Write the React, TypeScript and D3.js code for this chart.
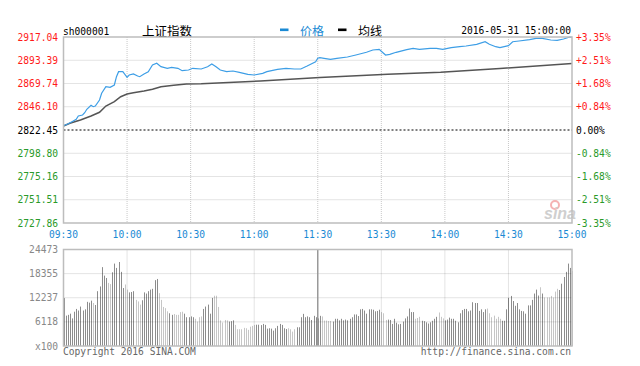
import React from 'react';
import * as d3 from 'd3';

// Header / axis text
const symbol = 'sh000001';
const title = '上证指数';
const legendPrice = '价格';
const legendAvg = '均线';
const dateLabel = '2016-05-31 15:00:00';
const prevClose = 2822.45;

const priceTicks = [2917.04, 2893.39, 2869.74, 2846.10, 2822.45, 2798.80, 2775.16, 2751.51, 2727.86];
const pctTicks = ['+3.35%', '+2.51%', '+1.68%', '+0.84%', '0.00%', '-0.84%', '-1.68%', '-2.51%', '-3.35%'];
const timeLabels = ['09:30', '10:00', '10:30', '11:00', '11:30', '13:30', '14:00', '14:30', '15:00'];
const timeMinutes = [0, 30, 60, 90, 120, 150, 180, 210, 240];
const volumeTicks = [24473, 18355, 12237, 6118];

// [minute index from 09:30, price]
const priceSeries: [number, number][] = [
  [0, 2826.82], [2, 2828.55], [4, 2830.89], [6, 2833.33], [7, 2836.69], [9, 2837.71], [10, 2840.05],
  [11, 2843.5], [13, 2847.57], [14, 2846.15], [15, 2846.86], [17, 2852.96], [18, 2859.78], [20, 2866.49],
  [22, 2865.88], [24, 2868.22], [25, 2876.66], [26, 2881.75], [28, 2881.75], [30, 2876.05], [31, 2878.39],
  [33, 2879.41], [35, 2877.37], [36, 2876.66], [38, 2879.41], [40, 2881.75], [42, 2888.56], [44, 2890.29],
  [46, 2886.83], [49, 2885.2], [51, 2886.22], [54, 2885.2], [56, 2882.76], [59, 2883.48], [61, 2885.2],
  [65, 2884.49], [68, 2886.83], [70, 2889.58], [72, 2886.83], [74, 2883.48], [77, 2881.75], [80, 2882.46],
  [83, 2881.14], [87, 2879.1], [90, 2878.39], [94, 2880.12], [96, 2881.75], [101, 2884.19], [105, 2885.2],
  [109, 2884.49], [112, 2884.49], [115, 2887.54], [119, 2891.92], [120, 2895.38], [121, 2895.99],
  [123, 2895.38], [126, 2894.36], [129, 2895.38], [134, 2896.7], [138, 2898.73], [143, 2901.48],
  [146, 2903.82], [149, 2904.53], [152, 2898.73], [154, 2899.44], [157, 2901.48], [162, 2904.12],
  [165, 2905.55], [168, 2904.53], [173, 2905.55], [176, 2905.55], [179, 2904.53], [183, 2906.16],
  [187, 2907.17], [190, 2907.89], [195, 2909.62], [199, 2912.26], [201, 2909.62], [204, 2907.17],
  [206, 2906.16], [208, 2907.17], [210, 2908.19], [212, 2912.26], [215, 2912.97], [220, 2914.29],
  [223, 2915.72], [226, 2915.72], [230, 2913.99], [233, 2913.65], [236, 2915.01], [239, 2917.04],
  [240, 2916.62],
];

const avgSeries: [number, number][] = [
  [0, 2826.52], [3, 2829.26], [8, 2832.62], [13, 2836.69], [17, 2840.45], [20, 2846.86], [24, 2851.23],
  [27, 2856.32], [30, 2859.07], [33, 2860.39], [38, 2862.12], [42, 2863.85], [46, 2866.49], [52, 2867.91],
  [58, 2869.24], [65, 2869.54], [93, 2872.29], [121, 2875.85], [153, 2879.1], [178, 2881.14],
  [206, 2885.0], [240, 2890.09],
];

// volume per minute (x100), 09:30-11:30 then 13:01-15:00
const volumeAm = [
  12150, 7700, 7900, 8200, 7000, 8700, 9400, 9000, 10000, 9000,
  9300, 11200, 11000, 11500, 10900, 10400, 13900, 15100, 20000, 17850,
  17250, 16000, 15700, 18700, 20900, 19800, 21300, 18800, 14700, 15600,
  14300, 13600, 13700, 13900, 11700, 11300, 10500, 11600, 13600, 13300,
  13900, 14300, 14500, 16700, 17000, 13400, 11700, 9900, 9600, 8800,
  8300, 7900, 8100, 7900, 7900, 8600, 8700, 8200, 7300, 7300,
  7500, 7300, 6900, 6200, 7300, 7500, 9400, 10000, 10500, 8200,
  12200, 12750, 12750, 9900, 6500, 5950, 6600, 6500, 6200, 6300,
  6500, 5350, 4250, 4250, 4250, 4600, 4500, 4100, 4900, 5100,
  5350, 5400, 5400, 5300, 5600, 5350, 4400, 4500, 4400, 3900,
  4500, 5100, 5600, 5350, 4500, 4300, 4500, 4250, 3650, 4250,
  4750, 4750, 7300, 8150, 7300, 7500, 7300, 6600, 7650, 7300,
  7000,
];
const volumePm = [
  7650, 7500, 6450, 6450, 6350, 6350, 6200, 6900, 6900, 6500,
  6900, 6500, 6700, 6500, 6900, 7300, 8000, 8000, 7600, 9300,
  9400, 9000, 8200, 9300, 9300, 9200, 8800, 8900, 9200, 8600,
  8300, 6600, 6700, 6600, 5600, 6900, 5900, 5500, 5600, 6200,
  7000, 7500, 9500, 8600, 8600, 6900, 7100, 7400, 6400, 6300,
  6000, 5700, 6000, 6400, 6900, 7400, 8500, 7400, 7000, 6500,
  6700, 7200, 6900, 6900, 6400, 6000, 8300, 9100, 9400, 9400,
  8800, 9000, 11100, 10900, 10900, 8900, 9300, 8600, 9300, 9500,
  8300, 7300, 7700, 6900, 7400, 6900, 6400, 6400, 9300, 12200,
  12700, 11400, 10200, 10900, 9300, 8900, 8800, 8200, 10300, 10300,
  11700, 13300, 14300, 12800, 14900, 13300, 12300, 12300, 12300, 12700,
  12300, 13800, 14500, 14200, 15800, 17500, 18800, 20900, 19800, 19000,
];

const MONO = '"DejaVu Sans Mono", "Liberation Mono", monospace';
const CJK = '"Noto Sans CJK SC", sans-serif';
const RED = '#ff1a1a';
const GREEN = '#2a9a2a';
const BLUE = '#1a8ad4';

export default function App() {
  const left = 63.5;
  const right = 572;
  const top = 37;
  const bottom = 223;
  const vTop = 249.5;
  const vBottom = 346;

  const x = d3.scaleLinear().domain([0, 240]).range([left, right]);
  const y = d3.scaleLinear().domain([priceTicks[priceTicks.length - 1], priceTicks[0]]).range([bottom, top]);
  const vy = d3.scaleLinear().domain([0, volumeTicks[0]]).range([vBottom, vTop]);

  const line = d3.line<[number, number]>().x(d => x(d[0])).y(d => y(d[1]));

  // price at each minute, only used to pick the bar shade
  const priceAt = d3.scaleLinear().domain(priceSeries.map(d => d[0])).range(priceSeries.map(d => d[1]));
  const volumes = [...volumeAm, ...volumePm];

  const tickColor = (v: number) => (Math.abs(v - prevClose) < 0.01 ? '#000' : v > prevClose ? RED : GREEN);

  return (
    <svg width={640} height={366} style={{ position: 'absolute', left: 0, top: 0, background: '#fff' }}>
      {/* header */}
      <text x={63} y={31} fontFamily={MONO} fontSize={9.6} fill="#000" dominantBaseline="central">{symbol}</text>
      <text x={142} y={30} fontFamily={CJK} fontSize={12.5} fill="#000" dominantBaseline="central">{title}</text>
      <rect x={280} y={28.5} width={8.5} height={2.6} fill={BLUE} />
      <text x={300} y={30} fontFamily={CJK} fontSize={12} fill={BLUE} dominantBaseline="central">{legendPrice}</text>
      <rect x={338} y={28.5} width={8.5} height={2.6} fill="#000" />
      <text x={358} y={30} fontFamily={CJK} fontSize={12} fill="#000" dominantBaseline="central">{legendAvg}</text>
      <text x={571} y={30.5} fontFamily={MONO} fontSize={9.6} fill="#000" textAnchor="end" dominantBaseline="central">{dateLabel}</text>

      {/* price grid */}
      {priceTicks.slice(1, -1).map(v => (
        v === prevClose ? null : (
          <line key={v} x1={left} x2={right} y1={y(v)} y2={y(v)} stroke="#c8c8c8" strokeDasharray="1,1" />
        )
      ))}
      {timeMinutes.slice(1, -1).map(m => (
        <line key={m} x1={x(m)} x2={x(m)} y1={top} y2={bottom} stroke="#c8c8c8" strokeDasharray="1,1" />
      ))}
      <line x1={left} x2={right} y1={y(prevClose)} y2={y(prevClose)} stroke="#000" strokeDasharray="2,2" />

      {/* sina watermark */}
      <g opacity={0.6}>
        <circle cx={555} cy={205} r={4} fill="none" stroke="#f08080" strokeWidth={2} />
        <text x={544} y={219} fontFamily="Liberation Sans, sans-serif" fontStyle="italic" fontWeight="bold" fontSize={16} fill="#b0b0b0">sina</text>
      </g>

      {/* lines */}
      <path d={line(avgSeries) || ''} fill="none" stroke="#555" strokeWidth={1.5} />
      <path d={line(priceSeries) || ''} fill="none" stroke="#3d9ee6" strokeWidth={1.2} />

      <rect x={left} y={top} width={right - left} height={bottom - top} fill="none" stroke="#bdbdbd" strokeWidth={1.5} />

      {/* price labels */}
      {priceTicks.map((v, i) => (
        <g key={v}>
          <text x={58} y={y(v)} fontFamily={MONO} fontSize={9.6} fill={tickColor(v)} textAnchor="end" dominantBaseline="central">{v.toFixed(2)}</text>
          <text x={576} y={y(v)} fontFamily={MONO} fontSize={9.6} fill={tickColor(v)} dominantBaseline="central">{pctTicks[i]}</text>
        </g>
      ))}

      {/* time labels */}
      {timeLabels.map((t, i) => (
        <text key={t} x={x(timeMinutes[i])} y={234} fontFamily={MONO} fontSize={9.6} fill={BLUE} textAnchor="middle" dominantBaseline="central">{t}</text>
      ))}

      {/* volume bars */}
      {volumes.map((v, i) => {
        const up = i === 0 || priceAt(i) >= priceAt(i - 1);
        const bx = Math.round(x(i));
        return <rect key={i} x={bx} y={vy(v)} width={1} height={vBottom - vy(v)} fill={up ? '#8c8c8c' : '#c6c6c6'} />;
      })}

      {/* volume grid */}
      {volumeTicks.slice(1).map(v => (
        <line key={v} x1={left} x2={right} y1={vy(v)} y2={vy(v)} stroke="rgba(0,0,0,0.22)" strokeDasharray="1,1" />
      ))}
      {timeMinutes.slice(1, -1).map(m => (
        m === 120 ? (
          <line key={m} x1={x(m)} x2={x(m)} y1={vTop} y2={vBottom} stroke="#999" strokeWidth={1.5} />
        ) : (
          <line key={m} x1={x(m)} x2={x(m)} y1={vTop} y2={vBottom} stroke="rgba(0,0,0,0.22)" strokeDasharray="1,1" />
        )
      ))}
      <rect x={left} y={vTop} width={right - left} height={vBottom - vTop} fill="none" stroke="#bdbdbd" strokeWidth={1.5} />

      {volumeTicks.map(v => (
        <text key={v} x={58} y={vy(v)} fontFamily={MONO} fontSize={9.6} fill="#888" textAnchor="end" dominantBaseline="central">{v}</text>
      ))}
      <text x={58} y={vBottom} fontFamily={MONO} fontSize={9.6} fill="#888" textAnchor="end" dominantBaseline="central">x100</text>

      <text x={63} y={351} fontFamily={MONO} fontSize={9.6} fill="#666" dominantBaseline="central">Copyright 2016 SINA.COM</text>
      <text x={571} y={351} fontFamily={MONO} fontSize={9.6} fill="#666" textAnchor="end" dominantBaseline="central">http://finance.sina.com.cn</text>
    </svg>
  );
}
